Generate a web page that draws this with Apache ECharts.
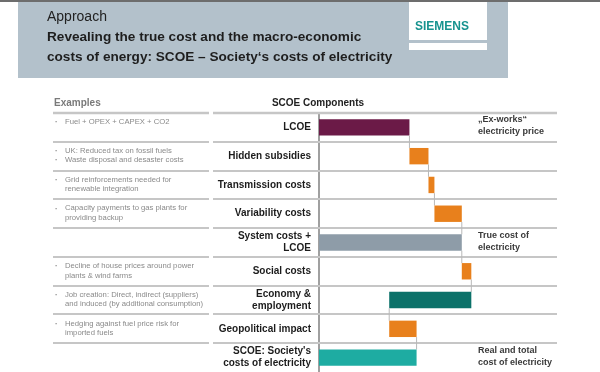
<!DOCTYPE html>
<html><head><meta charset="utf-8">
<script src="https://cdn.jsdelivr.net/npm/echarts@6/dist/echarts.min.js"></script>
<style>html,body{margin:0;padding:0;background:#fff}#c{width:600px;height:372px}</style>
</head><body><div id="c"></div>
<script>
const categories = ['LCOE', 'Hidden subsidies', 'Transmission costs', 'Variability costs', 'System costs +\nLCOE', 'Social costs', 'Economy &\nemployment', 'Geopolitical impact', "SCOE: Society's\ncosts of electricity"];
// change per component; null = running-total bar drawn from zero
const deltas = [38, 8, 2.5, 11.5, null, 4, -34.5, 11.5, null];
const barColors = ['#6b1a47', '#e8801c', '#e8801c', '#e8801c', '#8e9ca8', '#e8801c', '#0b7169', '#e8801c', '#1eaca2'];
const examples = [
  ['Fuel + OPEX + CAPEX + CO2'],
  ['UK: Reduced tax on fossil fuels', 'Waste disposal and desaster costs'],
  ['Grid reinforcements needed for', '\u0000renewable integration'],
  ['Capacity payments to gas plants for', '\u0000providing backup'],
  [],
  ['Decline of house prices around power', '\u0000plants & wind farms'],
  ['Job creation: Direct, indirect (suppliers)', '\u0000and induced (by additional consumption)'],
  ['Hedging against fuel price risk for', '\u0000imported fuels'],
  []
];
const notes = [
  ['\u201eEx-works\u201c', 'electricity price'], null, null, null,
  ['True cost of', 'electricity'], null, null, null,
  ['Real and total', 'cost of electricity']
];

// waterfall table
let cum = 0;
const rows = deltas.map((d, i) => {
  let s, e;
  if (d === null) { s = 0; e = cum; } else { s = cum; cum += d; e = cum; }
  return [i, s, e];
});

const chart = echarts.init(document.getElementById('c'));
const gridTop = 113, gridH = 372 - 113, nRows = categories.length, rowH = gridH / nRows;
const FONT = '"Liberation Sans", Arial, sans-serif';

const graphics = [];
// header band
graphics.push({type:'rect', shape:{x:18, y:0, width:490, height:78}, style:{fill:'#b3c1cb'}, z:0});
graphics.push({type:'rect', shape:{x:0, y:0, width:600, height:2}, style:{fill:'#6d6d6d'}, z:1});
graphics.push({type:'rect', shape:{x:409, y:2, width:78, height:38}, style:{fill:'#ffffff'}, z:1});
graphics.push({type:'rect', shape:{x:409, y:43, width:78, height:7}, style:{fill:'#ffffff'}, z:1});
graphics.push({type:'text', x:442, y:27, style:{text:'SIEMENS', font:'bold 12px ' + FONT, fill:'#17938f', align:'center', verticalAlign:'middle'}, z:2});
graphics.push({type:'text', x:47, y:17, style:{text:'Approach', font:'14px ' + FONT, fill:'#222', verticalAlign:'middle'}, z:2});
graphics.push({type:'text', x:47, y:37, style:{text:'Revealing the true cost and the macro-economic', font:'bold 13.6px ' + FONT, fill:'#1e1e1e', verticalAlign:'middle'}, z:2});
graphics.push({type:'text', x:47, y:57, style:{text:'costs of energy: SCOE \u2013 Society\u2018s costs of electricity', font:'bold 13.6px ' + FONT, fill:'#1e1e1e', verticalAlign:'middle'}, z:2});
// table headers
graphics.push({type:'text', x:54, y:103, style:{text:'Examples', font:'bold 10px ' + FONT, fill:'#7a7a7a', verticalAlign:'middle'}, z:2});
graphics.push({type:'text', x:318, y:103, style:{text:'SCOE Components', font:'bold 10px ' + FONT, fill:'#222', align:'center', verticalAlign:'middle'}, z:2});
// row separators
for (let i = 0; i < nRows; i++) {
  const y = Math.round(gridTop + i * rowH);
  const w = i === 0 ? 2.5 : 2;
  graphics.push({type:'line', shape:{x1:53, y1:y, x2:209, y2:y}, style:{stroke:'#c6c6c6', lineWidth:w}, z:1});
  graphics.push({type:'line', shape:{x1:213, y1:y, x2:557, y2:y}, style:{stroke:'#c6c6c6', lineWidth:w}, z:1});
}
// example texts
examples.forEach((lines, i) => {
  lines.forEach((t, k) => {
    const cont = t.charAt(0) === '\u0000';
    const y = gridTop + i * rowH + 9 + k * 9.5;
    if (!cont) {
      graphics.push({type:'text', x:55, y:y, style:{text:'\u00b7', font:'bold 8px ' + FONT, fill:'#8a8a8a', verticalAlign:'middle'}, z:2});
    }
    graphics.push({type:'text', x:65, y:y, style:{text:cont ? t.slice(1) : t, font:'7.7px ' + FONT, fill:'#8a8a8a', verticalAlign:'middle'}, z:2});
  });
});
// notes
notes.forEach((lines, i) => {
  if (!lines) return;
  lines.forEach((t, k) => {
    graphics.push({type:'text', x:478, y:gridTop + i * rowH + 7 + k * 12, style:{text:t, font:'bold 9px ' + FONT, fill:'#3a3a3a', verticalAlign:'middle'}, z:2});
  });
});

chart.setOption({
  animation: false,
  backgroundColor: '#ffffff',
  grid: {left: 319, right: 43, top: gridTop, bottom: 0},
  xAxis: {type:'value', min:0, max:100, show:false},
  yAxis: {
    type:'category', data: categories, inverse: true,
    axisLine: {show:true, lineStyle:{color:'#a0a0a0', width:2}},
    axisTick: {show:false},
    splitLine: {show:false},
    axisLabel: {margin:8, fontFamily: FONT, fontWeight:'bold', fontSize:10, lineHeight:12, color:'#1c1c1c', align:'right'}
  },
  graphic: graphics,
  series: [{
    type: 'custom',
    data: rows,
    encode: {x:[1,2], y:0},
    renderItem: function (params, api) {
      const i = api.value(0), s = api.value(1), e = api.value(2);
      const p0 = api.coord([s, i]), p1 = api.coord([e, i]);
      const bh = api.size([0, 1])[1] * 0.57;
      const children = [{
        type:'rect',
        shape:{x:Math.min(p0[0], p1[0]), y:p0[1] - bh / 2, width:Math.abs(p1[0] - p0[0]), height:bh},
        style:{fill: barColors[i]}
      }];
      if (i < nRows - 1) {
        const next = api.coord([e, i + 1]);
        children.push({type:'line', shape:{x1:p1[0], y1:p0[1] + bh / 2, x2:p1[0], y2:next[1] - bh / 2}, style:{stroke:'#b8b8b8', lineWidth:1}});
      }
      return {type:'group', children};
    }
  }]
});
</script>
</body></html>
